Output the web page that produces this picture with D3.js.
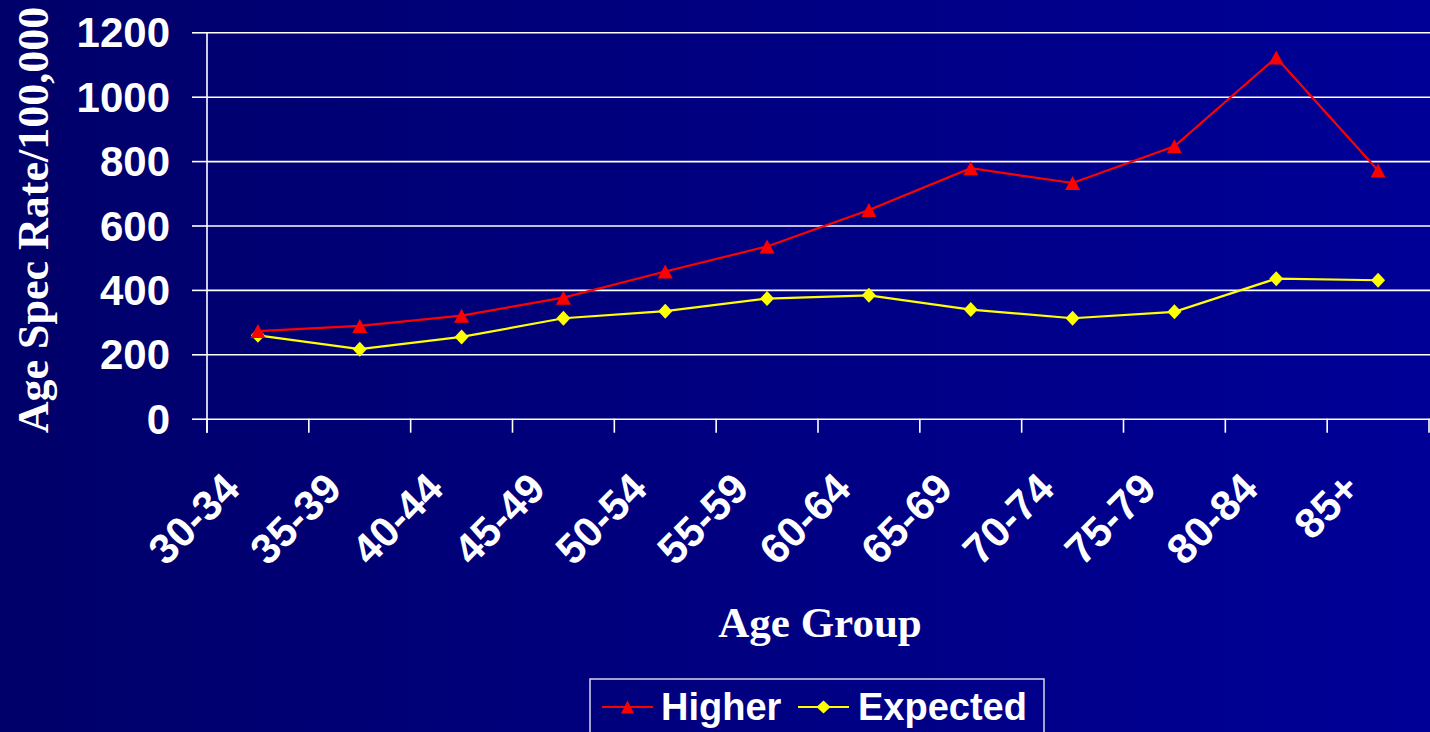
<!DOCTYPE html>
<html>
<head>
<meta charset="utf-8">
<script src="https://cdn.jsdelivr.net/npm/d3@7"></script>
<style>
  html, body { margin: 0; padding: 0; background: #000070; overflow: hidden; }
  svg { display: block; }
</style>
</head>
<body>
<svg id="chart" width="1430" height="732"></svg>
<script>
// Age-specific rates per 100,000 by age group
const ageGroups = ["30-34", "35-39", "40-44", "45-49", "50-54", "55-59", "60-64", "65-69", "70-74", "75-79", "80-84", "85+"];
const higher   = [272, 288, 320, 376, 457, 535, 648, 778, 732, 846, 1122, 771];
const expected = [259, 216, 254, 312, 334, 373, 383, 339, 312, 332, 435, 430];
const yTicks   = [0, 200, 400, 600, 800, 1000, 1200];
const seriesNames = ["Higher", "Expected"];

const W = 1430, H = 732;
const svg = d3.select("#chart");

// slide-style background: dark navy brightening to the right
const defs = svg.append("defs");
const grad = defs.append("linearGradient").attr("id", "bg").attr("x1", 0).attr("x2", 1).attr("y1", 0).attr("y2", 0);
grad.append("stop").attr("offset", "0%").attr("stop-color", "#00006A");
grad.append("stop").attr("offset", "100%").attr("stop-color", "#000097");
svg.append("rect").attr("width", W).attr("height", H).attr("fill", "url(#bg)");

const plot = { left: 207, right: 1429, top: 32.3, bottom: 418.7 };

const x = d3.scaleBand().domain(ageGroups).range([plot.left, plot.right]).paddingInner(0).paddingOuter(0);
const y = d3.scaleLinear().domain([0, 1200]).range([plot.bottom, plot.top]);
const cx = d => x(d) + x.bandwidth() / 2;

// marker shapes (w × h boxes centred on the point)
const triShape = (w, h) => ({
  draw(ctx) {
    ctx.moveTo(0, -h / 2); ctx.lineTo(w / 2, h / 2); ctx.lineTo(-w / 2, h / 2); ctx.closePath();
  }
});
const diaShape = (w, h) => ({
  draw(ctx) {
    ctx.moveTo(0, -h / 2); ctx.lineTo(w / 2, 0); ctx.lineTo(0, h / 2); ctx.lineTo(-w / 2, 0); ctx.closePath();
  }
});

// horizontal gridlines with left tick marks
const yAxis = d3.axisLeft(y).tickValues(yTicks).tickSize(15).tickFormat("");
const gy = svg.append("g").attr("transform", `translate(${plot.left},0)`).call(yAxis);
gy.select(".domain").remove();
gy.selectAll(".tick line").attr("stroke", "#fff").attr("stroke-width", 1.6);
gy.selectAll(".tick").append("line")
  .attr("x1", 0).attr("x2", W - plot.left)
  .attr("stroke", "#fff").attr("stroke-width", 1.6);

// y tick labels
svg.append("g").selectAll("text").data(yTicks).join("text")
  .attr("x", 170).attr("y", d => y(d))
  .attr("dy", "0.36em")
  .attr("text-anchor", "end")
  .attr("fill", "#fff")
  .style("font", "bold 42px 'Liberation Sans', Arial, sans-serif")
  .text(d => d);

// vertical axis line
svg.append("line")
  .attr("x1", plot.left).attr("x2", plot.left)
  .attr("y1", plot.top).attr("y2", plot.bottom + 14)
  .attr("stroke", "#fff").attr("stroke-width", 1.6);

// category boundary ticks below the baseline
const boundaries = ageGroups.map(d => x(d)).concat([plot.right]);
svg.append("g").selectAll("line").data(boundaries).join("line")
  .attr("x1", d => d).attr("x2", d => d)
  .attr("y1", plot.bottom).attr("y2", plot.bottom + 14)
  .attr("stroke", "#fff").attr("stroke-width", 1.6);

// rotated category labels
svg.append("g").selectAll("text").data(ageGroups).join("text")
  .attr("transform", d => `translate(${cx(d) - 16},491) rotate(-45)`)
  .attr("text-anchor", "end")
  .attr("fill", "#fff")
  .style("font", "bold 42px 'Liberation Sans', Arial, sans-serif")
  .text(d => d);

// axis titles
svg.append("text")
  .attr("x", 820).attr("y", 637)
  .attr("text-anchor", "middle")
  .attr("fill", "#fff")
  .style("font", "bold 43px 'Liberation Serif', 'Times New Roman', serif")
  .text("Age Group");

svg.append("text")
  .attr("transform", "translate(48,220) rotate(-90)")
  .attr("text-anchor", "middle")
  .attr("fill", "#fff")
  .style("font", "bold 44px 'Liberation Serif', 'Times New Roman', serif")
  .text("Age Spec Rate/100,000");

// series
const line = d3.line().x((v, i) => cx(ageGroups[i])).y(v => y(v));

function drawSeries(values, color, shape) {
  svg.append("path").datum(values)
    .attr("d", line).attr("fill", "none")
    .attr("stroke", color).attr("stroke-width", 2.2);
  svg.append("g").selectAll("path").data(values).join("path")
    .attr("transform", (v, i) => `translate(${cx(ageGroups[i])},${y(v)})`)
    .attr("d", d3.symbol().type(shape)()).attr("fill", color);
}
drawSeries(expected, "#FFFF00", diaShape(14, 15));
drawSeries(higher, "#FF0000", triShape(15, 14));

// legend
const lg = svg.append("g");
lg.append("rect")
  .attr("x", 590).attr("y", 679).attr("width", 454).attr("height", 70)
  .attr("fill", "none").attr("stroke", "#d8d8e8").attr("stroke-width", 1.5);
const legendItems = [
  { name: seriesNames[0], color: "#FF0000", shape: triShape(13, 13), x0: 602, tx: 661 },
  { name: seriesNames[1], color: "#FFFF00", shape: diaShape(14, 13), x0: 798, tx: 858 }
];
legendItems.forEach(it => {
  lg.append("line").attr("x1", it.x0).attr("x2", it.x0 + 51).attr("y1", 707).attr("y2", 707)
    .attr("stroke", it.color).attr("stroke-width", 2);
  lg.append("path").attr("transform", `translate(${it.x0 + 25.5},707)`)
    .attr("d", d3.symbol().type(it.shape)()).attr("fill", it.color);
  lg.append("text").attr("x", it.tx).attr("y", 720)
    .attr("fill", "#fff")
    .style("font", "bold 38px 'Liberation Sans', Arial, sans-serif")
    .text(it.name);
});
</script>
</body>
</html>
